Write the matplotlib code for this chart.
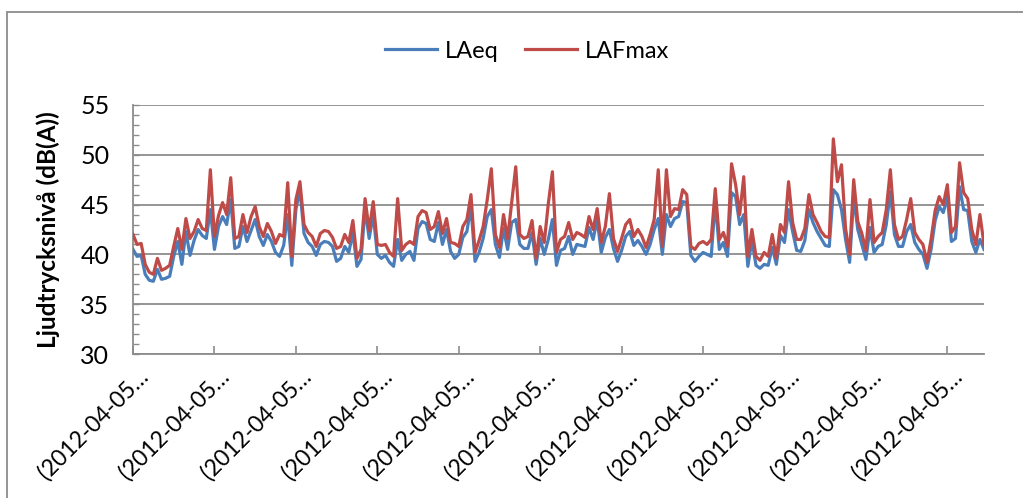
import matplotlib
matplotlib.use("Agg")
import matplotlib.pyplot as plt
import matplotlib.transforms as mtransforms
from matplotlib.patches import Rectangle
from matplotlib.ticker import MultipleLocator

plt.rcParams['font.family'] = ['Lato', 'DejaVu Sans']

series_names = ["LAeq", "LAFmax"]
tick_labels = ["(2012-04-05\u2026"] * 11

laeq = [
    40.5, 39.8, 39.9, 38.0, 37.4, 37.3, 38.5, 37.5, 37.6, 37.8,
    39.8, 41.3, 39.0, 42.3, 39.9, 41.4, 42.5, 41.9, 41.6, 44.5,
    40.5, 42.8, 43.8, 43.0, 45.5, 40.6, 40.8, 42.8, 41.3, 42.4,
    43.5, 41.8, 40.9, 42.0, 41.3, 40.2, 39.8, 40.9, 44.0, 38.9,
    44.5, 46.5, 42.1, 41.2, 40.8, 39.9, 41.0, 41.3, 41.2, 40.8,
    39.3, 39.6, 40.8, 40.2, 42.2, 38.8, 39.5, 44.6, 41.6, 44.0,
    40.0, 39.6, 39.9, 39.2, 38.8, 41.5, 39.4, 40.0, 40.3, 39.4,
    42.6, 43.3, 43.1, 41.5, 41.3, 43.2, 41.0, 42.5, 40.3, 39.6,
    40.0, 41.7, 42.3, 44.8, 39.3, 40.2, 41.6, 43.8, 44.5, 41.0,
    39.7, 42.6, 40.5, 43.2, 43.5, 41.0, 40.6, 40.6, 42.2, 39.0,
    41.6, 40.0, 41.5, 43.5, 38.9, 40.4, 40.6, 41.8, 40.0, 41.0,
    40.9, 40.8, 42.7, 41.5, 43.5, 40.2, 41.7, 42.5, 40.6, 39.3,
    40.4, 41.8, 42.3, 40.9, 41.4, 40.8, 40.0, 41.0, 42.5, 43.6,
    40.0, 44.0, 42.8, 43.6, 43.8, 45.3, 45.2, 39.9, 39.3, 39.8,
    40.2, 40.0, 39.8, 45.3, 40.5, 41.2, 39.8, 46.2, 45.8, 43.0,
    44.0, 38.8, 41.4, 38.9, 38.6, 39.0, 38.9, 40.7, 39.0, 41.9,
    41.2, 44.5, 42.3, 40.4, 40.3, 41.4, 44.5, 43.2, 42.3, 41.6,
    40.9, 40.8, 46.5, 46.0, 44.5, 41.5, 39.2, 45.8, 42.5, 41.0,
    39.5, 42.7, 40.2, 40.8, 41.0, 43.0, 46.3, 42.0, 40.8, 40.8,
    42.3, 43.0, 41.2, 40.5, 40.0, 38.6, 40.5, 43.4, 44.8, 44.2,
    45.8, 41.3, 41.6, 46.8, 44.5, 44.4, 41.3, 40.2, 41.5, 40.5,
]

lafmax = [
    42.0, 41.0, 41.1, 39.0, 38.2, 38.0, 39.6, 38.4, 38.6, 38.9,
    40.8, 42.6, 40.5, 43.6, 41.6, 42.3, 43.5, 42.6, 42.4, 48.5,
    41.8, 43.9, 45.2, 44.0, 47.7, 41.6, 41.8, 44.0, 42.2, 43.8,
    44.8, 42.8, 41.8, 43.1, 42.3, 41.1, 42.0, 41.8, 47.2, 39.8,
    45.5, 47.3, 43.0, 42.2, 41.8, 40.8, 42.1, 42.4, 42.3, 41.7,
    40.6, 40.8, 42.0, 41.2, 43.4, 39.6, 40.5, 45.6, 42.4, 45.3,
    41.0, 40.9, 41.0, 40.2, 39.8, 45.6, 40.4, 41.0, 41.3, 41.0,
    43.8, 44.4, 44.2, 42.5, 42.8, 44.3, 42.1, 43.6, 41.2, 41.1,
    40.8, 42.8, 43.5, 46.0, 40.2, 41.4, 42.8, 45.5, 48.6, 42.0,
    40.7, 44.0, 41.6, 45.2, 48.8, 42.0, 41.6, 41.8, 43.4, 39.6,
    42.8, 41.2, 45.1, 48.3, 40.2, 41.5, 41.8, 43.2, 41.5, 42.2,
    42.0, 41.7, 43.8, 42.5, 44.6, 41.2, 42.8, 46.1, 41.6, 40.3,
    41.6, 43.0, 43.5, 41.8, 42.5, 41.8, 40.7, 42.0, 43.5, 48.5,
    40.8, 48.5, 43.8, 44.6, 44.5, 46.5, 46.0, 40.8, 40.5, 41.1,
    41.3, 41.0, 41.5, 46.6, 41.5, 42.2, 40.8, 49.1, 47.0, 44.0,
    47.8, 39.8, 42.5, 39.8, 39.4, 40.2, 39.8, 42.0, 39.6, 43.0,
    42.2, 47.3, 43.2, 41.5, 41.5, 42.6, 46.0, 44.0, 43.2, 42.3,
    41.8, 41.7, 51.6, 47.3, 49.0, 42.6, 40.0, 47.5, 43.3, 42.1,
    40.4, 45.5, 41.2, 41.8, 42.2, 44.5, 48.5, 43.0, 41.5, 41.8,
    43.5, 45.6, 42.2, 41.5, 41.0, 39.2, 41.5, 44.4, 45.8, 45.0,
    47.0, 42.2, 42.8, 49.2, 46.2, 45.6, 42.5, 41.0, 44.0, 41.0,
]

W, H = 1023, 498
fig = plt.figure(figsize=(W / 100, H / 100), dpi=100)
fig.patch.set_facecolor('white')

# outer chart frame (right and bottom edges lie outside the picture)
fig.patches.append(Rectangle((7 / W, -0.05), 1.1, (498 - 12) / H + 0.05,
                             transform=fig.transFigure, fill=False,
                             edgecolor='#8C8C8C', linewidth=1.3, zorder=0))

ax = fig.add_axes([133 / W, (H - 354) / H, (984 - 133) / W, (354 - 105) / H])

x = list(range(len(laeq)))
grid_c = '#8C8C8C'
ax.plot(x, laeq, color='#4A7EBB', lw=2.3, label=series_names[0], solid_joinstyle='round', zorder=3)
ax.plot(x, lafmax, color='#BE4B48', lw=2.3, label=series_names[1], solid_joinstyle='round', zorder=4)

ax.set_xlim(0, len(laeq) - 1)
ax.set_ylim(30, 55)
ax.yaxis.set_major_locator(MultipleLocator(5))
ax.yaxis.set_minor_locator(MultipleLocator(1))
ax.grid(axis='y', which='major', color=grid_c, lw=1.3)
ax.set_axisbelow(True)

for s in ['top', 'right']:
    ax.spines[s].set_visible(False)
for s in ['left', 'bottom']:
    ax.spines[s].set_color(grid_c)
    ax.spines[s].set_linewidth(1.3)

ax.tick_params(axis='y', which='major', direction='in', length=4, width=1, color=grid_c,
               labelsize=18, pad=17, labelcolor='black')
ax.tick_params(axis='y', which='minor', direction='in', length=4, width=1, color=grid_c)
ax.tick_params(axis='x', which='major', direction='in', length=6, width=1.2, color=grid_c,
               labelsize=16.5, pad=4)

ax.set_xticks(list(range(0, len(laeq), 20)))
ax.set_xticklabels(tick_labels, rotation=45, ha='right', va='top', rotation_mode='anchor')
offset = mtransforms.ScaledTranslation(4 / 100, -6 / 100, fig.dpi_scale_trans)
for lab in ax.get_xticklabels():
    lab.set_transform(lab.get_transform() + offset)

ax.set_ylabel("Ljudtrycksnivå (dB(A))", fontsize=17.5, fontweight='bold', labelpad=4)
ax.yaxis.set_label_coords(60 / W, (H - 230) / H, transform=fig.transFigure)

fig.legend(loc='center', bbox_to_anchor=(527 / W, 1 - 51 / H), ncol=2, frameon=False,
           fontsize=17, handlelength=2.2, columnspacing=1.1, handletextpad=0.35)

fig.savefig("out.png", dpi=100)
